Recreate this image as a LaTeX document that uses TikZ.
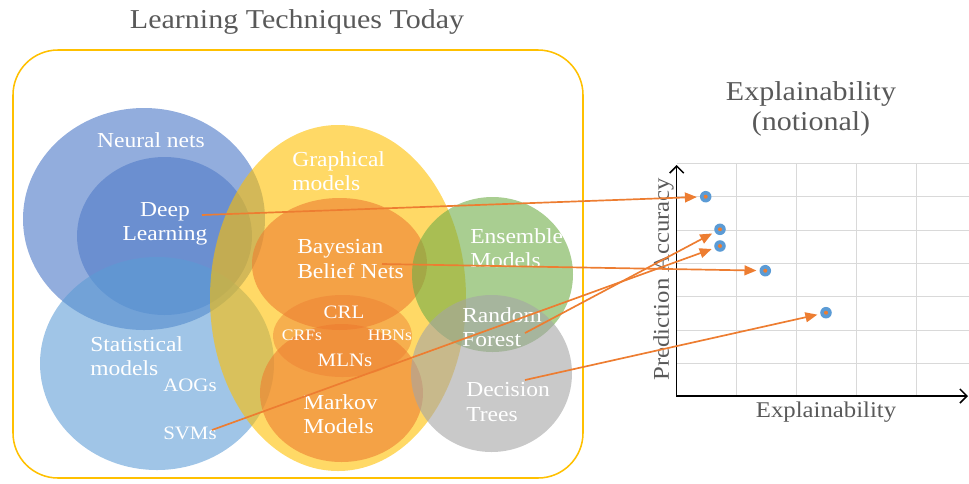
\documentclass[tikz,border=0pt]{standalone}
\usepackage{fontspec}
\setmainfont[FakeStretch=1.1]{Liberation Serif}
\usetikzlibrary{arrows.meta}
\definecolor{nnblue}{HTML}{4472C4}
\definecolor{stblue}{HTML}{5B9BD5}
\definecolor{gmgold}{HTML}{FFC000}
\definecolor{bnorange}{HTML}{ED7D31}
\definecolor{engreen}{HTML}{70AD47}
\definecolor{dtgray}{HTML}{A5A5A5}
\definecolor{txtgray}{HTML}{595959}
\definecolor{gridgray}{HTML}{D9D9D9}
\tikzset{
  lbl/.style={text=white, inner sep=0pt, font=\fontsize{15.2}{17.4}\selectfont},
  lblm/.style={lbl, font=\fontsize{13.5}{15}\selectfont},
  lbls/.style={lbl, font=\fontsize{11.4}{13}\selectfont},
  ttl/.style={text=txtgray, font=\fontsize{19.4}{21.3}\selectfont},
  axl/.style={text=txtgray, font=\fontsize{16}{18}\selectfont},
  dot/.style={circle, fill=stblue, minimum size=8.2pt, inner sep=0pt,
    path picture={\fill[bnorange] (path picture bounding box.center) circle (2);}},
  arr/.style={bnorange, line width=1.2pt, -{Triangle[length=8.5pt,width=7pt]}, shorten >=2pt}
}
\begin{document}
\begin{tikzpicture}[x=0.025cm,y=-0.025cm]
\useasboundingbox (0,0) rectangle (969,483);
\node[ttl] (title) at (297,22) {Learning Techniques Today};
\draw[gmgold, line width=1.1pt, rounded corners=32pt] (13,50) rectangle (583,478);
% sets
\fill[nnblue, opacity=0.58] (144,219) ellipse [x radius=121, y radius=111];
\fill[nnblue, opacity=0.5] (164.5,236) ellipse [x radius=87.5, y radius=79];
\fill[stblue, opacity=0.58] (157,363.5) ellipse [x radius=117, y radius=106.5];
\fill[gmgold, opacity=0.6] (338,298) ellipse [x radius=128, y radius=173];
\fill[bnorange, opacity=0.6] (339.5,264) ellipse [x radius=87.5, y radius=66];
\fill[bnorange, opacity=0.6] (341.5,393) ellipse [x radius=81.5, y radius=69];
\fill[bnorange, opacity=0.45] (342.5,336) ellipse [x radius=69.5, y radius=41];
\fill[engreen, opacity=0.6] (492.5,274.5) ellipse [x radius=80.5, y radius=77.5];
\fill[dtgray, opacity=0.6] (491.5,373.5) ellipse [x radius=80.5, y radius=78.5];
\node[lbl] (nn) at (151,140) {Neural nets};
\node[lbl, align=center] (dl) at (165,224) {Deep\\Learning};
\node[lbl, align=left, anchor=west] (sm) at (90,356) {Statistical\\models};
\node[lblm] (aog) at (190,385) {AOGs};
\node[lblm] (svm) at (190,433) {SVMs};
\node[lbl, align=left, anchor=west] (gm) at (292,171) {Graphical\\models};
\node[lbl, align=left, anchor=west] (bbn) at (297,259) {Bayesian\\Belief Nets};
\node[lblm] (crl) at (344,312) {CRL};
\node[lbls] (crf) at (302,335) {CRFs};
\node[lbls] (hbn) at (390,335) {HBNs};
\node[lblm] (mln) at (345,360) {MLNs};
\node[lbl, align=left, anchor=west] (mm) at (303,414) {Markov\\Models};
\node[lbl, align=left, anchor=west] (em) at (470,248) {Ensemble\\Models};
\node[lbl, align=left, anchor=west] (rf) at (462,327) {Random\\Forest};
\node[lbl, align=left, anchor=west] (dt) at (466,402) {Decision\\Trees};
% chart
\node[ttl, align=center] (ctitle) at (811,109) {Explainability\\(notional)};
\foreach \y in {163.3,196.7,230,263.3,296.7,330,363.3}
  \draw[gridgray, line width=0.7pt] (676.7,\y) -- (969,\y);
\foreach \x in {736.7,796.7,856.7,916.7}
  \draw[gridgray, line width=0.7pt] (\x,163.3) -- (\x,396);
\draw[line width=1.1pt, {Straight Barb[length=5pt,width=10pt]}-{Straight Barb[length=5pt,width=10pt]}]
  (676.7,165) -- (676.7,396) -- (968,396);
\node[axl, rotate=90] (ya) at (663.5,279) {Prediction Accuracy};
\node[axl] (xa) at (826,412) {Explainability};
\node[dot] (p1) at (705.7,196.7) {};
\node[dot] (p2) at (720,229.3) {};
\node[dot] (p3) at (720,246) {};
\node[dot] (p4) at (765.3,270.7) {};
\node[dot] (p5) at (826,312.7) {};
\coordinate (dls) at (202,215);
\coordinate (bbs) at (382,264);
\coordinate (svs) at (212,430);
\coordinate (rfs) at (525,333);
\coordinate (dts) at (525,380);
\draw[arr] (dls) -- (p1);
\draw[arr] (bbs) -- (p4);
\draw[arr] (svs) -- (p3);
\draw[arr] (rfs) -- (p2);
\draw[arr] (dts) -- (p5);
\end{tikzpicture}
\end{document}
